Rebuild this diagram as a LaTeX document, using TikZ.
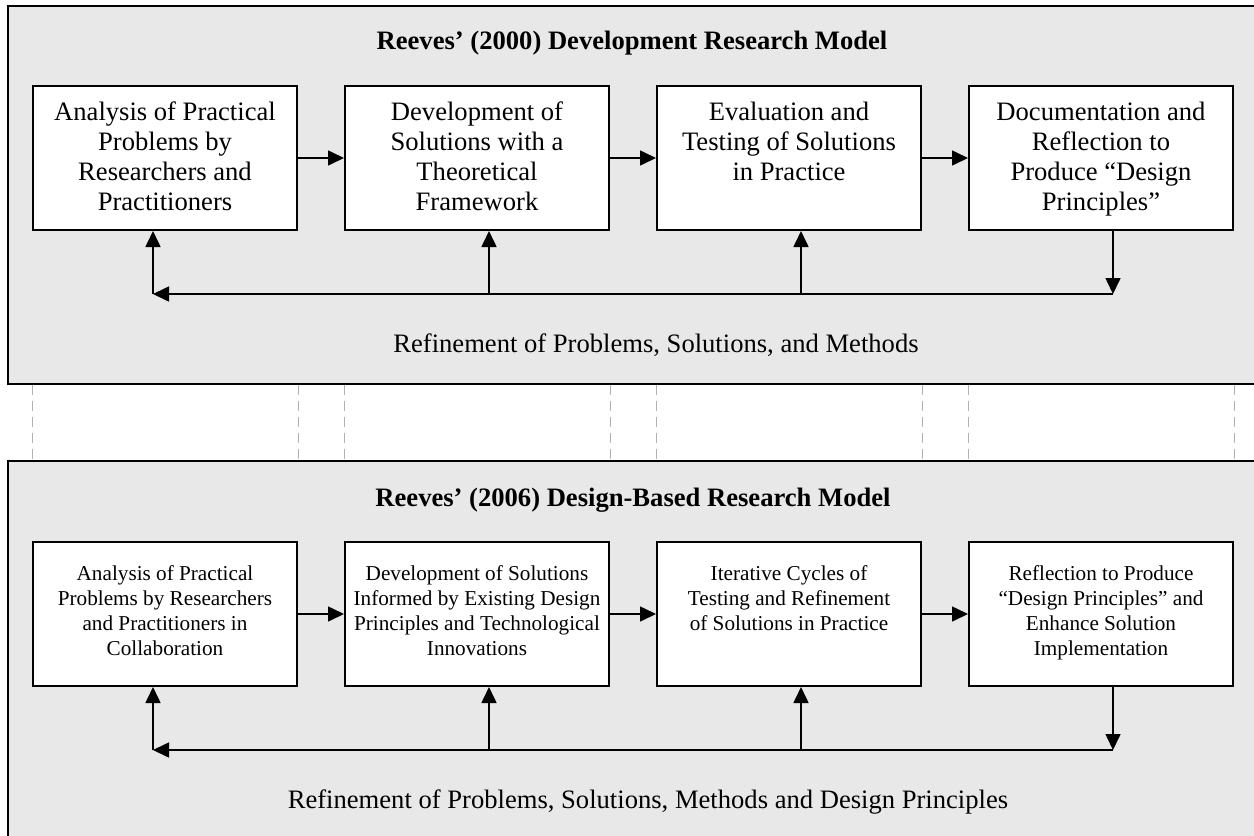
\documentclass[tikz,border=0pt]{standalone}
\usepackage{fontspec}
\setmainfont{Liberation Serif}
\usetikzlibrary{arrows.meta}
\definecolor{panelgray}{RGB}{232,232,232}
\definecolor{dashgray}{RGB}{178,178,178}
\newcommand\topboxtext[1]{\parbox[c][72pt][t]{130pt}{\centering\fontsize{13.3}{15}\selectfont\vspace*{7.9pt}#1}}
\newcommand\botboxtext[1]{\parbox[c][72pt][t]{130pt}{\centering\fontsize{10.6}{12.5}\selectfont\vspace*{11.8pt}#1}}
\begin{document}
\begin{tikzpicture}[x=0.5pt,y=-0.5pt,
 panel/.style={draw=black, line width=1pt, fill=panelgray, inner sep=0pt, minimum width=631pt},
 stepbox/.style={draw=black, line width=1pt, fill=white, inner sep=0pt, minimum width=132pt, minimum height=72pt},
 arr/.style={line width=0.8pt, -{Triangle[length=8pt,width=7.5pt]}},
 dashline/.style={draw=dashgray, line width=0.5pt, dash pattern=on 5pt off 3pt},
 title/.style={font=\fontsize{13.3}{15}\selectfont\bfseries, anchor=base, inner sep=0pt},
 foot/.style={font=\fontsize{13.3}{15}\selectfont, anchor=base, inner sep=0pt},
]
\useasboundingbox (0,0) rectangle (1254,836);
\clip (0,0) rectangle (1254,836);

% panels
\node[panel, minimum height=189pt] (P1) at (639,195) {};
\node[panel, minimum height=196pt] (P2) at (639,657) {};

% titles and footers
\node[title] (T1) at (632,49) {Reeves’ (2000) Development Research Model};
\node[foot] (F1) at (656,352) {Refinement of Problems, Solutions, and Methods};
\node[title] (T2) at (633,506) {Reeves’ (2006) Design-Based Research Model};
\node[foot] (F2) at (648,808) {Refinement of Problems, Solutions, Methods and Design Principles};

% top boxes
\node[stepbox] (t1) at (165,158) {\topboxtext{Analysis of Practical\\Problems by\\Researchers and\\Practitioners}};
\node[stepbox] (t2) at (477,158) {\topboxtext{Development of\\Solutions with a\\Theoretical\\Framework}};
\node[stepbox] (t3) at (789,158) {\topboxtext{Evaluation and\\Testing of Solutions\\in Practice}};
\node[stepbox] (t4) at (1101,158) {\topboxtext{Documentation and\\Reflection to\\Produce “Design\\Principles”}};

% bottom boxes
\node[stepbox] (b1) at (165,614) {\botboxtext{Analysis of Practical\\Problems by Researchers\\and Practitioners in\\Collaboration}};
\node[stepbox] (b2) at (477,614) {\botboxtext{Development of Solutions\\Informed by Existing Design\\Principles and Technological\\Innovations}};
\node[stepbox] (b3) at (789,614) {\botboxtext{Iterative Cycles of\\Testing and Refinement\\of Solutions in Practice}};
\node[stepbox] (b4) at (1101,614) {\botboxtext{Reflection to Produce\\“Design Principles” and\\Enhance Solution\\Implementation}};

% dashed guide lines between panels
\foreach \n in {t1,t2,t3,t4}{
  \draw[dashline] (\n.west |- P1.south) -- (\n.west |- P2.north);
  \draw[dashline] (\n.east |- P1.south) -- (\n.east |- P2.north);
}

% top flow
\draw[arr] (t1.east) -- (t2.west);
\draw[arr] (t2.east) -- (t3.west);
\draw[arr] (t3.east) -- (t4.west);
\coordinate (c1) at (153,294);
\coordinate (c2) at (489,294);
\coordinate (c3) at (801,294);
\coordinate (c4) at (1113,294);
\draw[arr] (t4.south -| c4) -- (c4);
\draw[arr] (c4) -- (c1);
\draw[arr] (c1) -- (c1 |- t1.south);
\draw[arr] (c2) -- (c2 |- t2.south);
\draw[arr] (c3) -- (c3 |- t3.south);

% bottom flow
\draw[arr] (b1.east) -- (b2.west);
\draw[arr] (b2.east) -- (b3.west);
\draw[arr] (b3.east) -- (b4.west);
\coordinate (d1) at (153,750);
\coordinate (d2) at (489,750);
\coordinate (d3) at (801,750);
\coordinate (d4) at (1113,750);
\draw[arr] (b4.south -| d4) -- (d4);
\draw[arr] (d4) -- (d1);
\draw[arr] (d1) -- (d1 |- b1.south);
\draw[arr] (d2) -- (d2 |- b2.south);
\draw[arr] (d3) -- (d3 |- b3.south);
\end{tikzpicture}
\end{document}
